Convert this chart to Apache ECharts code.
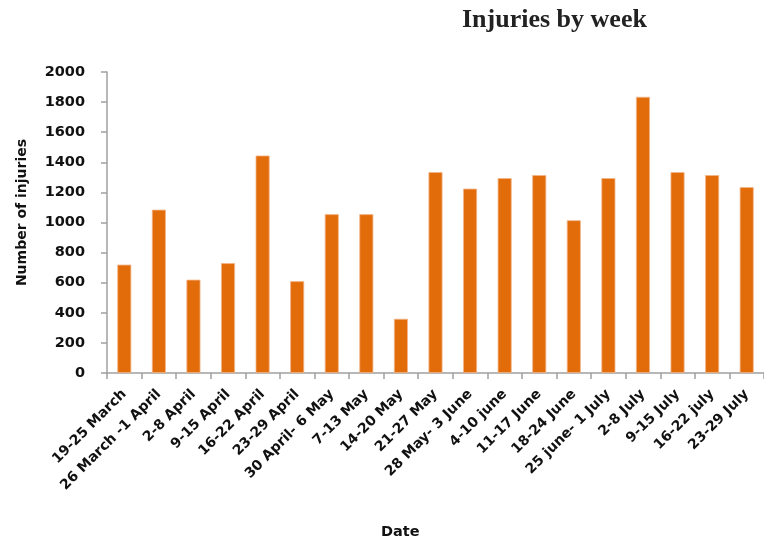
<!DOCTYPE html>
<html><head><meta charset="utf-8">
<script src="https://cdn.jsdelivr.net/npm/echarts@6/dist/echarts.min.js"></script>
<style>html,body{margin:0;padding:0;background:#fff}#c{width:764px;height:540px}</style>
</head><body><div id="c"></div>
<script>
const categories = ["19-25 March","26 March -1 April","2-8 April","9-15 April","16-22 April","23-29 April","30 April- 6 May","7-13 May","14-20 May","21-27 May","28 May- 3 June","4-10 june","11-17 June","18-24 June","25 june- 1 July","2-8 July","9-15 July","16-22 july","23-29 July"];
const injuries = [720,1085,620,730,1445,610,1055,1055,360,1335,1225,1295,1315,1015,1295,1835,1335,1315,1235];
const yTicks = {min:0, max:2000, interval:200};

const chart = echarts.init(document.getElementById('c'), null, {renderer:'canvas'});
const font = 'DejaVu Sans';
chart.setOption({
  animation:false,
  backgroundColor:'#fff',
  title:[
    {text:'Injuries by week', left:457, top:2, textStyle:{fontFamily:'Liberation Serif', fontWeight:'bold', fontSize:26, color:'#222'}},
    {text:'Date', left:376, top:520, textStyle:{fontFamily:font, fontWeight:'bold', fontSize:14.5, color:'#111'}}
  ],
  grid:{left:107, top:72, width:663, height:301, containLabel:false},
  xAxis:{
    type:'category', data:categories,
    axisLine:{lineStyle:{color:'#A0A0A0', width:1.5}},
    axisTick:{show:true, length:6, alignWithLabel:false, lineStyle:{color:'#A0A0A0', width:1.5}},
    axisLabel:{rotate:45, interval:0, margin:19, fontFamily:font, fontWeight:'bold', fontSize:14, color:'#111'}
  },
  yAxis:{
    type:'value', min:yTicks.min, max:yTicks.max, interval:yTicks.interval,
    name:'Number of injuries', nameLocation:'middle', nameGap:78, nameRotate:90,
    nameTextStyle:{fontFamily:font, fontWeight:'bold', fontSize:14, color:'#111', padding:[0,0,0,20]},
    axisLine:{show:true, lineStyle:{color:'#A0A0A0', width:1.5}},
    axisTick:{show:true, length:6, lineStyle:{color:'#A0A0A0', width:1.5}},
    splitLine:{show:false},
    axisLabel:{margin:22, formatter:v=>String(v), fontFamily:font, fontWeight:'bold', fontSize:14.5, color:'#111'}
  },
  series:[{
    type:'bar', data:injuries, barWidth:14,
    itemStyle:{color:'#E36C0A', borderColor:'#F3B58A', borderWidth:0.8}
  }]
});
</script></body></html>
